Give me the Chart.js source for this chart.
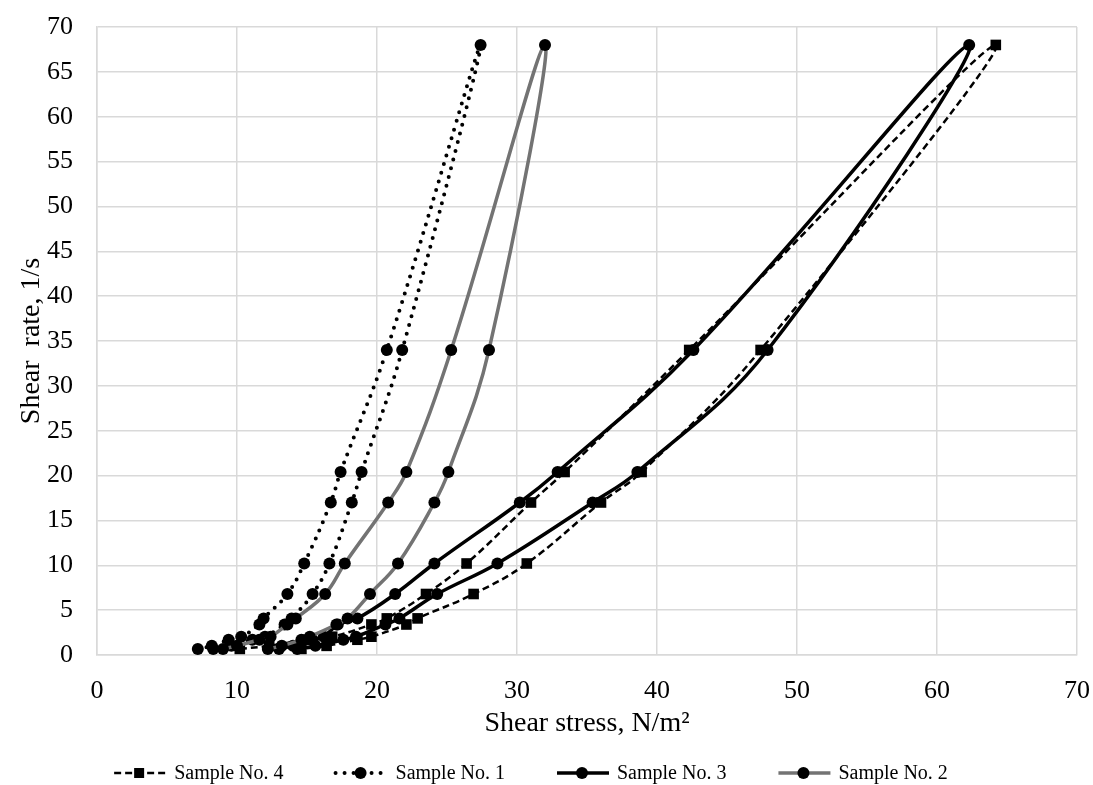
<!DOCTYPE html>
<html>
<head>
<meta charset="utf-8">
<script src="https://cdn.jsdelivr.net/npm/chart.js@4.4.0/dist/chart.umd.min.js"></script>
<style>
  html, body { margin: 0; padding: 0; background: #fff; }
  #wrap { width: 1093px; height: 785px; }
</style>
</head>
<body>
<div id="wrap"><canvas id="chart" width="1093" height="785"></canvas></div>
<script>
// shear rates, 1/s (rising branch, low to high)
var rateUp = [0.68, 1.02, 1.7, 2.04, 3.4, 4.08, 6.8, 10.2, 17, 20.4, 34, 68];
// falling branch, high to low (68 is the shared tip)
var rateDown = [34, 20.4, 17, 10.2, 6.8, 4.08, 3.4, 2.04, 1.7, 1.02, 0.68];

// shear stress, N/m2
var s4Up   = [10.2, 12.3, 15.0, 16.8, 19.6, 20.7, 23.5, 26.4, 31.0, 33.4, 42.3, 64.2];
var s4Down = [47.4, 38.9, 36.0, 30.7, 26.9, 22.9, 22.1, 19.6, 18.6, 16.4, 14.6];

var s1Up   = [7.2, 8.2, 9.4, 10.3, 11.6, 11.9, 13.6, 14.8, 16.7, 17.4, 20.7, 27.4];
var s1Down = [21.8, 18.9, 18.2, 16.6, 15.4, 13.9, 13.4, 12.0, 11.1, 9.6, 8.3];

var s3Up   = [13.0, 14.0, 15.4, 16.2, 17.2, 18.6, 21.3, 24.1, 30.2, 32.9, 42.6, 62.3];
var s3Down = [47.9, 38.6, 35.4, 28.6, 24.3, 21.6, 20.6, 18.5, 17.6, 15.6, 14.3];

var s2Up   = [9.0, 10.0, 11.6, 12.4, 13.6, 14.2, 16.3, 17.7, 20.8, 22.1, 25.3, 32.0];
var s2Down = [28.0, 25.1, 24.1, 21.5, 19.5, 17.9, 17.1, 15.2, 14.6, 13.2, 12.2];

var seriesNames = ['Sample No. 4', 'Sample No. 1', 'Sample No. 3', 'Sample No. 2'];
var xTicks = [0, 10, 20, 30, 40, 50, 60, 70];

function loop(up, down) {
  var pts = [];
  for (var i = 0; i < up.length; i++) pts.push({x: up[i], y: rateUp[i]});
  for (var j = 0; j < down.length; j++) pts.push({x: down[j], y: rateDown[j]});
  return pts;
}

var FONT = '"Liberation Serif", "Times New Roman", serif';
var GRAY = '#737373';

// legend drawn by hand: line sample + marker + name, like the Excel one
var sampleLegend = {
  id: 'sampleLegend',
  afterDraw: function(chart) {
    var c = chart.ctx;
    var sets = chart.data.datasets;
    c.save();
    c.font = '20px ' + FONT;
    var sw = 54, gapIn = 8, gapOut = 50;
    var total = 0;
    var widths = sets.map(function(ds) { return c.measureText(ds.label).width; });
    widths.forEach(function(w) { total += sw + gapIn + w; });
    total += gapOut * (sets.length - 1);
    var x = 530 - total / 2;
    var y = chart.height - 12;
    sets.forEach(function(ds, i) {
      c.save();
      c.strokeStyle = ds.borderColor;
      c.lineWidth = ds.borderWidth;
      c.lineCap = ds.borderCapStyle || 'butt';
      c.setLineDash(ds.borderDash || []);
      c.beginPath(); c.moveTo(x + 2, y); c.lineTo(x + sw, y); c.stroke();
      c.setLineDash([]);
      c.fillStyle = '#000';
      if (ds.pointStyle == 'rect') c.fillRect(x + sw / 2 - 5, y - 5, 10, 10);
      else { c.beginPath(); c.arc(x + sw / 2, y, 6, 0, Math.PI * 2); c.fill(); }
      c.restore();
      c.fillStyle = '#000';
      c.textBaseline = 'middle';
      c.fillText(ds.label, x + sw + gapIn, y + 1);
      x += sw + gapIn + widths[i] + gapOut;
    });
    c.restore();
  }
};

var ctx = document.getElementById('chart').getContext('2d');
new Chart(ctx, {
  type: 'scatter',
  plugins: [sampleLegend],
  data: {
    datasets: [{
      label: seriesNames[0],
      data: loop(s4Up, s4Down),
      showLine: true,
      borderColor: '#000',
      borderWidth: 2.5,
      borderDash: [7, 4],
      tension: 0.4,
      pointStyle: 'rect',
      pointRadius: 7.5,
      pointBackgroundColor: '#000',
      pointBorderWidth: 0,
      order: 4
    }, {
      label: seriesNames[1],
      data: loop(s1Up, s1Down),
      showLine: true,
      borderColor: '#000',
      borderWidth: 4,
      borderDash: [0, 9],
      borderCapStyle: 'round',
      tension: 0.4,
      pointRadius: 6,
      pointBackgroundColor: '#000',
      pointBorderWidth: 0,
      order: 3
    }, {
      label: seriesNames[2],
      data: loop(s3Up, s3Down),
      showLine: true,
      borderColor: '#000',
      borderWidth: 3.5,
      tension: 0.4,
      pointRadius: 6,
      pointBackgroundColor: '#000',
      pointBorderWidth: 0,
      order: 2
    }, {
      label: seriesNames[3],
      data: loop(s2Up, s2Down),
      showLine: true,
      borderColor: GRAY,
      borderWidth: 3.5,
      tension: 0.4,
      pointRadius: 6,
      pointBackgroundColor: '#000',
      pointBorderWidth: 0,
      order: 1
    }]
  },
  options: {
    responsive: false,
    animation: false,
    layout: { padding: { top: 27, right: 16, left: 11, bottom: 41 } },
    plugins: {
      tooltip: { enabled: false },
      legend: { display: false }
    },
    scales: {
      x: {
        type: 'linear',
        min: 0,
        max: 70,
        afterBuildTicks: function(s) { s.ticks = xTicks.map(function(v) { return {value: v}; }); },
        grid: { color: '#d9d9d9', lineWidth: 1.5, drawTicks: false },
        border: { color: '#d9d9d9', width: 1.5 },
        ticks: { color: '#000', font: { family: FONT, size: 26 }, padding: 21 },
        title: {
          display: true,
          text: 'Shear stress, N/m\u00B2',
          color: '#000',
          font: { family: FONT, size: 28 },
          padding: { top: 4, bottom: 4 }
        },
        afterFit: function(s) { s.height = 89; s.paddingLeft = 0; s.paddingRight = 0; }
      },
      y: {
        type: 'linear',
        min: 0,
        max: 70,
        ticks: { stepSize: 5, color: '#000', font: { family: FONT, size: 26 }, padding: 24 },
        grid: { color: '#d9d9d9', lineWidth: 1.5, drawTicks: false },
        border: { color: '#d9d9d9', width: 1.5 },
        title: {
          display: true,
          text: 'Shear  rate, 1/s',
          color: '#000',
          font: { family: FONT, size: 28 },
          padding: { top: 4, bottom: 4 }
        },
        afterFit: function(s) { s.width = 86; s.paddingTop = 0; s.paddingBottom = 0; }
      }
    }
  }
});
</script>
</body>
</html>
